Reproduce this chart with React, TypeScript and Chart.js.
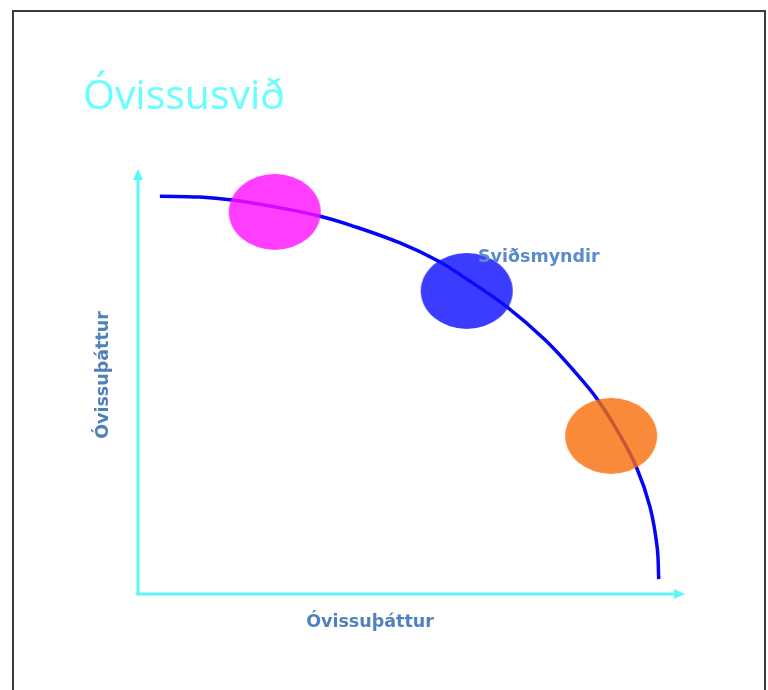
import React, { useEffect, useRef } from "react";
import { Chart, registerables } from "chart.js";

Chart.register(...registerables);

// Data (axis units 0..100 on both axes)
const curveX = [4.0, 11.3, 17.2, 25.0, 33.3, 38.8, 47.9, 54.8, 60.1, 67.5, 74.4, 79.9, 84.1, 88.1, 91.2, 93.6, 94.9, 95.2];
const curveY = [93.6, 93.4, 92.7, 91.1, 88.9, 86.8, 82.6, 78.4, 74.1, 67.5, 59.8, 52.2, 45.6, 37.4, 29.6, 20.5, 11.1, 3.5];

const scenarioX = [25.0, 60.1, 86.5];
const scenarioY = [89.9, 71.3, 37.2];
const scenarioColors = ["rgba(255,12,255,0.8)", "rgba(11,11,255,0.8)", "rgba(246,109,9,0.8)"];

const titleText = "Óvissusvið";
const xAxisTitle = "Óvissuþáttur";
const yAxisTitle = "Óvissuþáttur";
const scenarioLabel = "Sviðsmyndir";

function makeEllipse(color: string, rx: number, ry: number): HTMLCanvasElement {
  const c = document.createElement("canvas");
  c.width = rx * 2 + 2;
  c.height = ry * 2 + 2;
  const ctx = c.getContext("2d")!;
  ctx.fillStyle = color;
  ctx.beginPath();
  ctx.ellipse(rx + 1, ry + 1, rx, ry, 0, 0, Math.PI * 2);
  ctx.fill();
  return c;
}

const decorPlugin = {
  id: "decor",
  beforeDatasetsDraw(chart: any) {
    const { ctx, chartArea } = chart;
    const { left, right, top, bottom } = chartArea;
    ctx.save();
    ctx.strokeStyle = "#5ef7f7";
    ctx.fillStyle = "#5ef7f7";
    ctx.lineWidth = 3;
    ctx.lineCap = "butt";
    // y axis
    ctx.beginPath();
    ctx.moveTo(left, bottom + 1.5);
    ctx.lineTo(left, top + 10);
    ctx.stroke();
    ctx.beginPath();
    ctx.moveTo(left, top);
    ctx.lineTo(left - 5, top + 11);
    ctx.lineTo(left + 5, top + 11);
    ctx.closePath();
    ctx.fill();
    // x axis
    ctx.beginPath();
    ctx.moveTo(left - 1.5, bottom);
    ctx.lineTo(right - 10, bottom);
    ctx.stroke();
    ctx.beginPath();
    ctx.moveTo(right, bottom);
    ctx.lineTo(right - 11, bottom - 5);
    ctx.lineTo(right - 11, bottom + 5);
    ctx.closePath();
    ctx.fill();
    ctx.restore();
  },
  afterDatasetsDraw(chart: any) {
    const { ctx, chartArea } = chart;
    const { left, bottom } = chartArea;
    ctx.save();
    // Title
    ctx.fillStyle = "#66ffff";
    ctx.font = "41px 'Open Sans'";
    ctx.textAlign = "left";
    ctx.textBaseline = "alphabetic";
    ctx.fillText(titleText, 83, 109);

    ctx.fillStyle = "#4f81bd";
    ctx.font = "bold 17.5px 'DejaVu Sans'";
    // x axis title
    ctx.textAlign = "center";
    ctx.fillText(xAxisTitle, 370, bottom + 33);
    // y axis title
    ctx.save();
    ctx.translate(left - 30, 375);
    ctx.rotate(-Math.PI / 2);
    ctx.fillText(yAxisTitle, 0, 0);
    ctx.restore();
    // scenario label
    ctx.fillStyle = "#5a8ccc";
    ctx.textAlign = "left";
    ctx.fillText(scenarioLabel, 478, 262);
    ctx.restore();
  },
};

export default function App() {
  const ref = useRef<HTMLCanvasElement>(null);
  useEffect(() => {
    if (!ref.current) return;
    const ellipses = scenarioColors.map((c) => makeEllipse(c, 46, 38));
    const chart = new Chart(ref.current, {
      type: "scatter",
      data: {
        datasets: [
          {
            label: scenarioLabel,
            data: scenarioX.map((x, i) => ({ x, y: scenarioY[i] })),
            pointStyle: ellipses as any,
            pointRadius: 40,
            showLine: false,
            order: 0,
            clip: false as any,
          },
          {
            type: "line" as any,
            label: "curve",
            data: curveX.map((x, i) => ({ x, y: curveY[i] })),
            borderColor: "#0505f5",
            borderWidth: 3.5,
            pointRadius: 0,
            tension: 0.4,
            fill: false,
            order: 1,
            clip: false as any,
          },
        ],
      },
      options: {
        responsive: false,
        animation: false,
        layout: { padding: { left: 138, top: 169, right: 83, bottom: 96 } },
        scales: {
          x: { type: "linear", min: 0, max: 100, display: false },
          y: { type: "linear", min: 0, max: 100, display: false },
        },
        plugins: {
          legend: { display: false },
          title: { display: false },
          tooltip: { enabled: false },
        },
      },
      plugins: [decorPlugin],
    });
    return () => chart.destroy();
  }, []);

  return (
    <div style={{ position: "absolute", left: 0, top: 0, width: 768, height: 690, overflow: "hidden", background: "#fff" }}>
      <div
        style={{
          position: "absolute",
          left: 12,
          top: 10,
          width: 750,
          height: 700,
          borderLeft: "2px solid #3a3a3a",
          borderTop: "2px solid #3a3a3a",
          borderRight: "2px solid #3a3a3a",
        }}
      />
      <canvas ref={ref} width={768} height={690} style={{ position: "absolute", left: 0, top: 0 }} />
    </div>
  );
}
